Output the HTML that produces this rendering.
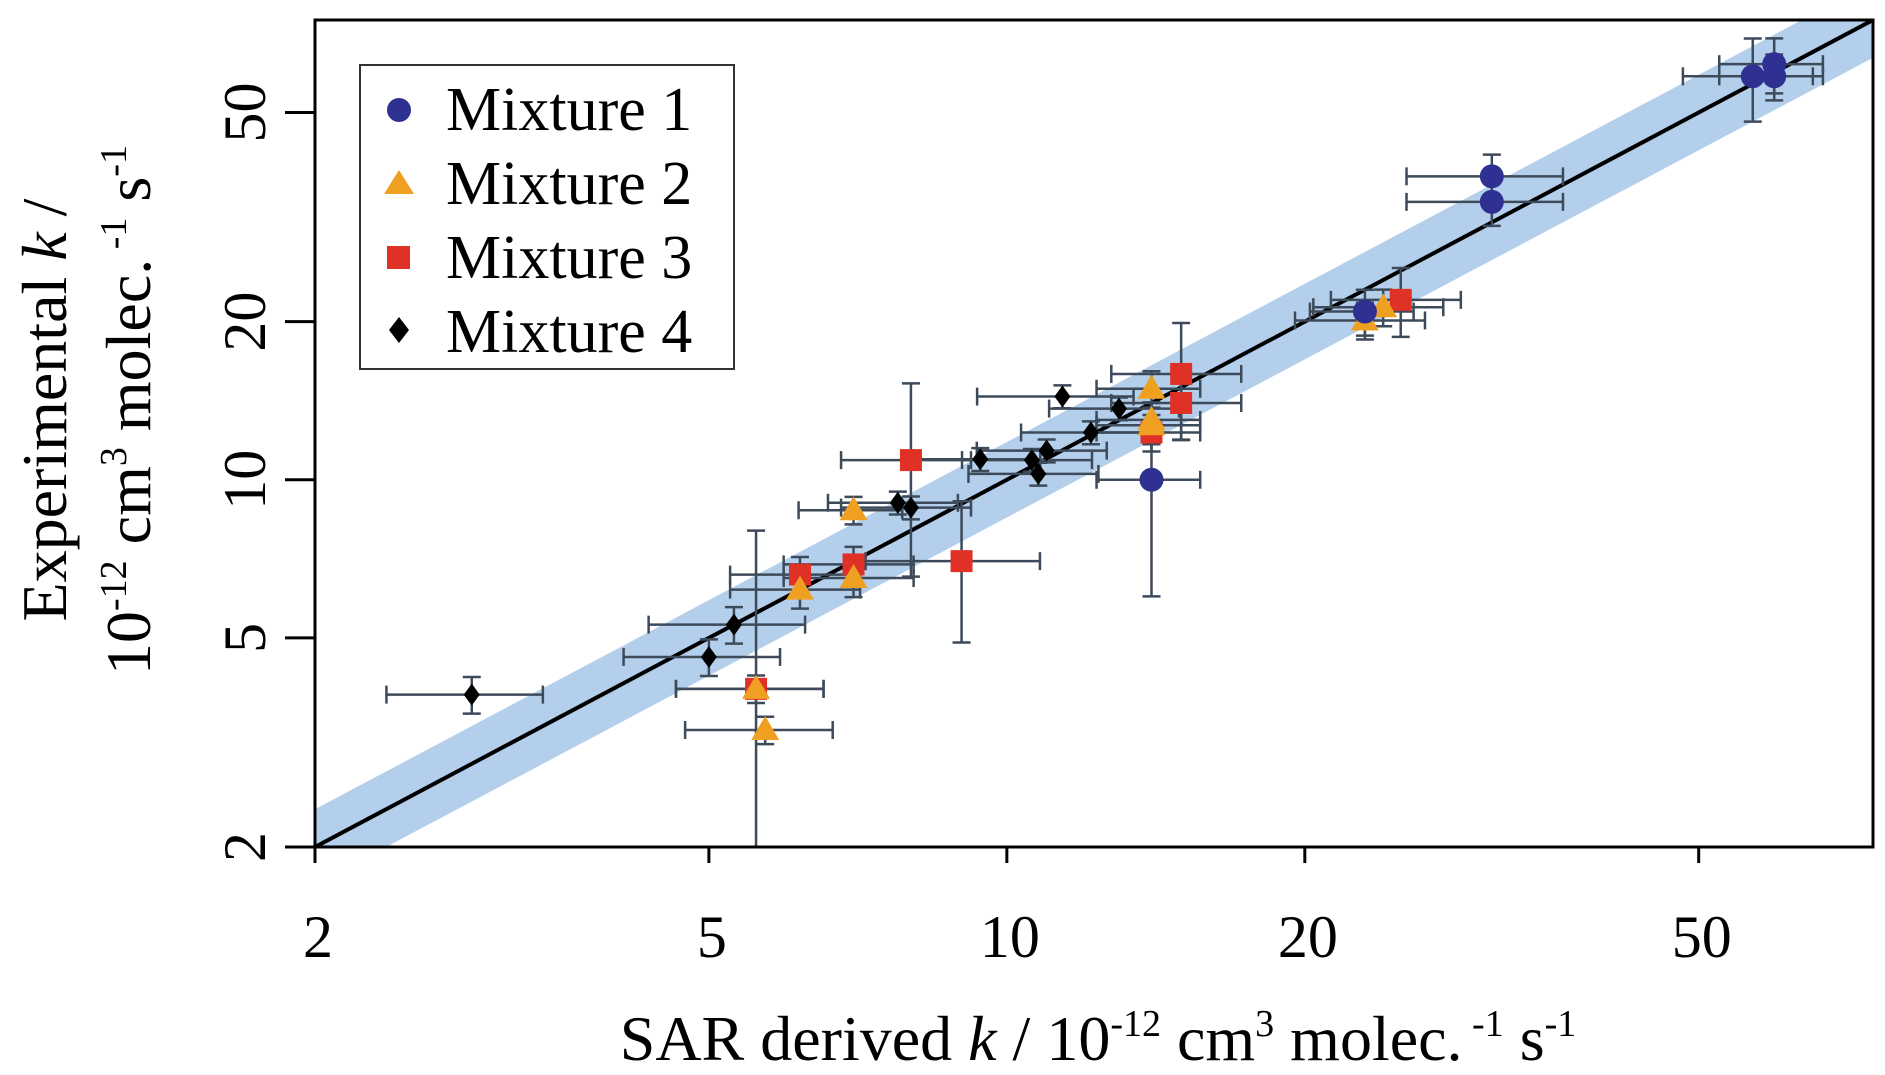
<!DOCTYPE html>
<html><head><meta charset="utf-8"><style>
html,body{margin:0;padding:0;background:#fff;}
svg{display:block;font-family:"Liberation Serif",serif;}
</style></head><body>
<svg id="chart" width="1885" height="1075" viewBox="0 0 1885 1075" xmlns="http://www.w3.org/2000/svg">
<defs><clipPath id="pc"><rect x="315" y="20" width="1558" height="827"/></clipPath></defs>
<g id="band" clip-path="url(#pc)"></g>
<g id="marks" clip-path="url(#pc)"></g>
<rect x="315" y="20" width="1558" height="827" fill="none" stroke="#000" stroke-width="3"/>
<g id="axes"></g>
<text x="1098" y="1060" font-size="64" text-anchor="middle">SAR derived <tspan font-style="italic">k</tspan> / 10<tspan dy="-24" font-size="38">-12</tspan><tspan dy="24"> cm</tspan><tspan dy="-24" font-size="38">3</tspan><tspan dy="24"> molec.</tspan><tspan dy="-24" font-size="38"> -1</tspan><tspan dy="24"> s</tspan><tspan dy="-24" font-size="38">-1</tspan></text>
<g transform="translate(66,410) rotate(-90)">
<text x="0" y="0" font-size="64" text-anchor="middle">Experimental <tspan font-style="italic">k</tspan> /</text>
<text x="0" y="84" font-size="64" text-anchor="middle">10<tspan dy="-24" font-size="38">-12</tspan><tspan dy="24"> cm</tspan><tspan dy="-24" font-size="38">3</tspan><tspan dy="24"> molec.</tspan><tspan dy="-24" font-size="38"> -1</tspan><tspan dy="24"> s</tspan><tspan dy="-24" font-size="38">-1</tspan></text>
</g>
<g>
<rect x="360" y="65" width="374" height="304" fill="#fff" stroke="#333" stroke-width="2"/>
<circle cx="399" cy="110" r="12" fill="#2e3192"/>
<text x="446" y="130" font-size="62">Mixture 1</text>
<polygon points="399,170 414,194 384,194" fill="#f0a020"/>
<text x="446" y="204" font-size="62">Mixture 2</text>
<rect x="387" y="246" width="23" height="23" fill="#e03127"/>
<text x="446" y="278" font-size="62">Mixture 3</text>
<polygon points="399,317 409,330 399,343 389,330" fill="#000"/>
<text x="446" y="352" font-size="62">Mixture 4</text>
</g>
</svg>
<script>
const xTicks=[2,5,10,20,50];
const yTicks=[2,5,10,20,50];
const m1x=[56.7,59.6,59.6,30.9,30.9,23.0,14.0];
const m1y=[58.6,58.6,61.8,37.8,33.8,20.9,10.0];
const m1ex=[15,12,12,18,18,12,12];
const m1ey=[18,10,12,10,10,10,40];
const m2x=[23.0,24.0,14.0,14.0,14.0,7.0,6.18,7.0,5.58,5.7];
const m2y=[20.1,21.3,14.9,13.0,12.7,8.75,6.18,6.5,4.0,3.34];
const m2ex=[15,15,12,12,12,12,15,15,17,17];
const m2ey=[8,8,8,8,8,6,8,8,6,6];
const m3x=[15.0,15.0,14.0,25.0,8.0,6.18,7.0,9.0,5.58];
const m3y=[15.9,14.0,12.3,22.0,10.9,6.6,6.9,7.0,4.0];
const m3ex=[15,15,12,15,15,15,15,20,17];
const m3ey=[25,15,8,15,40,8,8,30,100];
const m4x=[2.88,5.0,5.3,7.76,8.0,9.4,10.6,10.76,10.97,11.38,12.16,12.98];
const m4y=[3.9,4.6,5.3,9.04,8.85,10.94,10.9,10.26,11.36,14.4,12.3,13.66];
const m4ex=[18,18,18,15,15,15,15,15,15,18,15,15];
const m4ey=[8,8,8,5,5,5,5,5,5,5,5,5];
const NS="http://www.w3.org/2000/svg";
const L=315,R=1873,T=20,B=847,MIN=2,MAX=75;
const lr=Math.log10(MAX/MIN);
function X(v){return L+(R-L)*Math.log10(v/MIN)/lr;}
function Y(v){return B-(B-T)*Math.log10(v/MIN)/lr;}
function mk(tag,at,parent){const e=document.createElementNS(NS,tag);for(const k in at)e.setAttribute(k,at[k]);parent.appendChild(e);return e;}
const axes=document.getElementById('axes'),marks=document.getElementById('marks'),band=document.getElementById('band');
xTicks.forEach(t=>{
 const l=mk('line',{x1:X(t),x2:X(t),y1:B,y2:B+16,stroke:'#000','stroke-width':3},axes);
 
 
 const tx=mk('text',{x:X(t)+3,y:B+110,'font-size':60,'text-anchor':'middle'},axes);tx.textContent=t;
 
 
});
yTicks.forEach(t=>{
 const l=mk('line',{x1:L-30,x2:L,y1:Y(t),y2:Y(t),stroke:'#000','stroke-width':3},axes);
 
 
 const tx=mk('text',{x:0,y:0,'font-size':60,'text-anchor':'middle',transform:`translate(${L-50},${Y(t)}) rotate(-90)`},axes);tx.textContent=t;
 
 
});
const f=1.18;
const bp=mk('polygon',{points:`${X(1)},${Y(1*f)} ${X(100)},${Y(100*f)} ${X(100)},${Y(100/f)} ${X(1)},${Y(1/f)}`,fill:'#b4cfec'},band);


const ln=mk('line',{x1:X(1.5),y1:Y(1.5),x2:X(100),y2:Y(100),stroke:'#000','stroke-width':4},band);


const EC='#3d4a5a';
function errbars(xs,ys,ex,ey){
 xs.forEach((x,i)=>{
  const y=ys[i],cx=X(x),cy=Y(y);
  const x0=X(x*(1-ex[i]/100)),x1=X(x*(1+ex[i]/100));
  const ylo=Math.max(y*(1-ey[i]/100),1.5),y0=Y(ylo),y1=Y(y*(1+ey[i]/100));
  const g=mk('g',{stroke:EC,'stroke-width':2.5,fill:'none'},marks);
  
  
  mk('line',{x1:x0,x2:x1,y1:cy,y2:cy},g);
  mk('line',{x1:x0,x2:x0,y1:cy-9,y2:cy+9},g);
  mk('line',{x1:x1,x2:x1,y1:cy-9,y2:cy+9},g);
  mk('line',{x1:cx,x2:cx,y1:y0,y2:y1},g);
  mk('line',{x1:cx-9,x2:cx+9,y1:y0,y2:y0},g);
  mk('line',{x1:cx-9,x2:cx+9,y1:y1,y2:y1},g);
 });
}
errbars(m1x,m1y,m1ex,m1ey);errbars(m2x,m2y,m2ex,m2ey);errbars(m3x,m3y,m3ex,m3ey);errbars(m4x,m4y,m4ex,m4ey);
m4x.forEach((x,i)=>{const cx=X(x),cy=Y(m4y[i]);
 const p=mk('polygon',{points:`${cx},${cy-11} ${cx+8},${cy} ${cx},${cy+11} ${cx-8},${cy}`,fill:'#000'},marks);
 
 });
m3x.forEach((x,i)=>{const cx=X(x),cy=Y(m3y[i]);
 const p=mk('rect',{x:cx-11,y:cy-11,width:22,height:22,fill:'#e03127'},marks);
 
 });
m2x.forEach((x,i)=>{const cx=X(x),cy=Y(m2y[i]);
 const p=mk('polygon',{points:`${cx},${cy-14} ${cx+14},${cy+10} ${cx-14},${cy+10}`,fill:'#f0a020'},marks);
 
 });
m1x.forEach((x,i)=>{const cx=X(x),cy=Y(m1y[i]);
 const p=mk('circle',{cx:cx,cy:cy,r:12,fill:'#2e3192'},marks);
 
 });
</script>
</body></html>
